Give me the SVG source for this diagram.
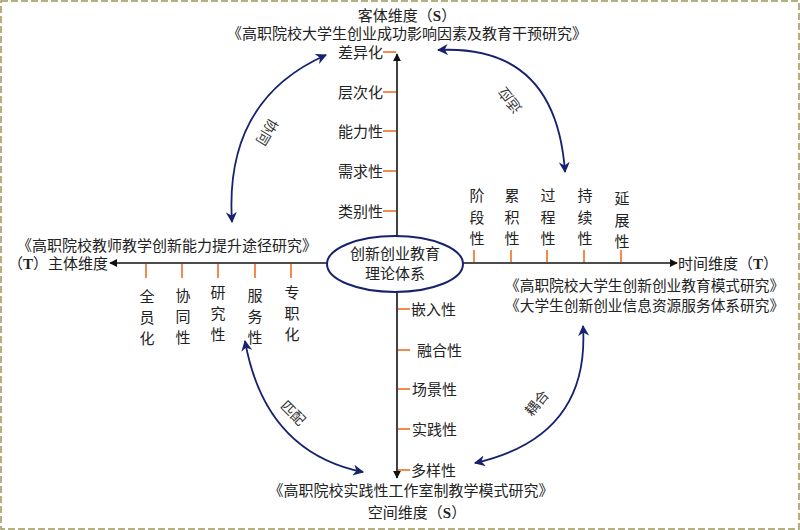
<svg xmlns="http://www.w3.org/2000/svg" width="800" height="530" viewBox="0 0 800 530">
<defs>
<style>
.t{font-family:"Liberation Sans","Noto Sans CJK SC",sans-serif;font-size:15px;fill:#222}
.b{font-family:"Liberation Serif",serif;font-weight:bold}
.lbl{font-family:"Liberation Sans","Noto Sans CJK SC",sans-serif;font-size:14px;fill:#333}
.ax{stroke:#111;stroke-width:1.6;fill:none}
.tk{stroke:#f26d21;stroke-width:1.6}
.arc{stroke:#17226e;stroke-width:1.8;fill:none}
</style>
<marker id="ah" viewBox="0 0 10 10" refX="9" refY="5" markerWidth="8" markerHeight="8" markerUnits="userSpaceOnUse" orient="auto"><path d="M0,0 L10,5 L0,10 z" fill="#111"/></marker>
<marker id="na" viewBox="0 0 10 10" refX="9" refY="5" markerWidth="11" markerHeight="11" markerUnits="userSpaceOnUse" orient="auto-start-reverse"><path d="M0,0 L10,5 L0,10 L3,5 z" fill="#17226e"/></marker>
</defs>
<rect x="1" y="1" width="798" height="528" fill="#fff" stroke="#9c975a" stroke-width="1.5" stroke-dasharray="7,3"/>

<g id="connectors">
<line class="ax" x1="397" y1="237" x2="397" y2="54" marker-end="url(#ah)"/>
<line class="ax" x1="397" y1="291" x2="397" y2="478" marker-end="url(#ah)"/>
<line class="ax" x1="328" y1="263" x2="110" y2="263" marker-end="url(#ah)"/>
<line class="ax" x1="462" y1="263" x2="677" y2="263" marker-end="url(#ah)"/>
<path class="arc" d="M232,222 Q224,100 326,55" marker-start="url(#na)" marker-end="url(#na)"/>
<path class="arc" d="M438,50 Q556,44 565,172" marker-start="url(#na)" marker-end="url(#na)"/>
<path class="arc" d="M245,341 Q265,452 363,472" marker-start="url(#na)" marker-end="url(#na)"/>
<path class="arc" d="M583,326 Q590,437 475,463" marker-start="url(#na)" marker-end="url(#na)"/>
</g>

<g id="center">
<ellipse cx="395" cy="264" rx="68" ry="28" fill="#fff" stroke="#17226e" stroke-width="2"/>
<text class="t" x="395" y="259" text-anchor="middle">创新创业教育</text>
<text class="t" x="395" y="279" text-anchor="middle">理论体系</text>
</g>

<g id="top-dimension">
<text class="t" x="407" y="21" text-anchor="middle">客体维度（<tspan class="b">S</tspan>）</text>
<text class="t" x="407" y="39" text-anchor="middle">《高职院校大学生创业成功影响因素及教育干预研究》</text>
</g>

<g id="top-items">
<line class="tk" x1="383" y1="52" x2="396" y2="52"/>
<line class="tk" x1="383" y1="92" x2="396" y2="92"/>
<line class="tk" x1="383" y1="131" x2="396" y2="131"/>
<line class="tk" x1="383" y1="171" x2="396" y2="171"/>
<line class="tk" x1="383" y1="211" x2="396" y2="211"/>
<text class="t" x="383" y="58" text-anchor="end">差异化</text>
<text class="t" x="383" y="98" text-anchor="end">层次化</text>
<text class="t" x="383" y="137" text-anchor="end">能力性</text>
<text class="t" x="383" y="177" text-anchor="end">需求性</text>
<text class="t" x="383" y="217" text-anchor="end">类别性</text>
</g>

<g id="left-dimension">
<text class="t" x="17" y="251">《高职院校教师教学创新能力提升途径研究》</text>
<text class="t" x="108" y="269" text-anchor="end">（<tspan class="b">T</tspan>）主体维度</text>
</g>

<g id="left-items">
<line class="tk" x1="146" y1="264" x2="146" y2="278"/>
<line class="tk" x1="182" y1="264" x2="182" y2="278"/>
<line class="tk" x1="218" y1="264" x2="218" y2="278"/>
<line class="tk" x1="255" y1="264" x2="255" y2="278"/>
<line class="tk" x1="291" y1="264" x2="291" y2="278"/>
<text class="t" text-anchor="middle"><tspan x="147" y="302">全</tspan><tspan x="147" y="323">员</tspan><tspan x="147" y="344">化</tspan></text>
<text class="t" text-anchor="middle"><tspan x="183" y="301">协</tspan><tspan x="183" y="322">同</tspan><tspan x="183" y="343">性</tspan></text>
<text class="t" text-anchor="middle"><tspan x="218" y="298">研</tspan><tspan x="218" y="319">究</tspan><tspan x="218" y="340">性</tspan></text>
<text class="t" text-anchor="middle"><tspan x="255" y="301">服</tspan><tspan x="255" y="322">务</tspan><tspan x="255" y="343">性</tspan></text>
<text class="t" text-anchor="middle"><tspan x="292" y="298">专</tspan><tspan x="292" y="319">职</tspan><tspan x="292" y="340">化</tspan></text>
</g>

<g id="right-dimension">
<text class="t" x="678" y="269">时间维度（<tspan class="b">T</tspan>）</text>
<text class="t" x="505" y="291" style="font-size:14.7px">《高职院校大学生创新创业教育模式研究》</text>
<text class="t" x="505" y="311" style="font-size:14.7px">《大学生创新创业信息资源服务体系研究》</text>
</g>

<g id="right-items">
<line class="tk" x1="474" y1="250" x2="474" y2="262"/>
<line class="tk" x1="511" y1="250" x2="511" y2="262"/>
<line class="tk" x1="547" y1="250" x2="547" y2="262"/>
<line class="tk" x1="584" y1="250" x2="584" y2="262"/>
<line class="tk" x1="621" y1="250" x2="621" y2="262"/>
<text class="t" text-anchor="middle"><tspan x="477" y="201">阶</tspan><tspan x="477" y="223">段</tspan><tspan x="477" y="244">性</tspan></text>
<text class="t" text-anchor="middle"><tspan x="512" y="201">累</tspan><tspan x="512" y="223">积</tspan><tspan x="512" y="244">性</tspan></text>
<text class="t" text-anchor="middle"><tspan x="548" y="201">过</tspan><tspan x="548" y="223">程</tspan><tspan x="548" y="244">性</tspan></text>
<text class="t" text-anchor="middle"><tspan x="585" y="201">持</tspan><tspan x="585" y="223">续</tspan><tspan x="585" y="244">性</tspan></text>
<text class="t" text-anchor="middle"><tspan x="622" y="204">延</tspan><tspan x="622" y="226">展</tspan><tspan x="622" y="247">性</tspan></text>
</g>

<g id="bottom-items">
<line class="tk" x1="398" y1="309" x2="410" y2="309"/>
<line class="tk" x1="398" y1="350" x2="410" y2="350"/>
<line class="tk" x1="398" y1="389" x2="410" y2="389"/>
<line class="tk" x1="398" y1="429" x2="410" y2="429"/>
<line class="tk" x1="398" y1="470" x2="410" y2="470"/>
<text class="t" x="411" y="315">嵌入性</text>
<text class="t" x="417" y="356">融合性</text>
<text class="t" x="412" y="395">场景性</text>
<text class="t" x="412" y="435">实践性</text>
<text class="t" x="411" y="476">多样性</text>
</g>

<g id="bottom-dimension">
<text class="t" x="411" y="496" text-anchor="middle">《高职院校实践性工作室制教学模式研究》</text>
<text class="t" x="417" y="518" text-anchor="middle">空间维度（<tspan class="b">S</tspan>）</text>
</g>

<g id="relations">
<text class="lbl" text-anchor="middle" transform="translate(267,132) rotate(121)" y="5">协同</text>
<text class="lbl" text-anchor="middle" transform="translate(510,100) rotate(-128)" y="5">适应</text>
<text class="lbl" text-anchor="middle" transform="translate(293,413) rotate(45)" y="5">匹配</text>
<text class="lbl" text-anchor="middle" transform="translate(537,403) rotate(-50)" y="5">耦合</text>
</g>
</svg>
